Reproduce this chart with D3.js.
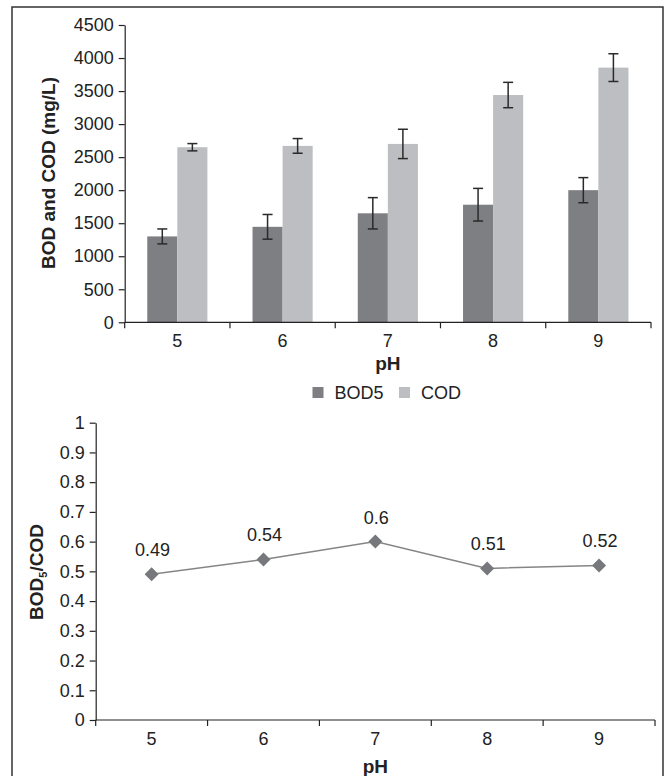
<!DOCTYPE html>
<html lang="en">
<head>
  <meta charset="UTF-8">
  <title>BOD and COD vs pH</title>
  <style>
    body {
      margin: 0;
      background: #fff;
    }
    svg text {
      font-family: "Liberation Sans", Arial, sans-serif;
      fill: #222;
    }
    .tick text {
      font-size: 18px;
    }
    .axis-title {
      font-size: 19px;
      font-weight: bold;
    }
  </style>
</head>
<body>
  <svg id="chart" width="665" height="776"></svg>

  <script src="https://d3js.org/d3.v7.min.js"></script>
  <script>
    // data
    const phValues = ["5", "6", "7", "8", "9"];
    const seriesNames = ["BOD5", "COD"];
    const bodValues = [1300, 1445, 1650, 1780, 2000];
    const bodErrors = [113, 187, 237, 247, 190];
    const codValues = [2650, 2670, 2700, 3440, 3855];
    const codErrors = [55, 111, 222, 192, 210];
    const ratioValues = [0.49, 0.54, 0.6, 0.51, 0.52];
    const barTicks = [0, 500, 1000, 1500, 2000, 2500, 3000, 3500, 4000, 4500];
    const ratioTicks = [0, 0.1, 0.2, 0.3, 0.4, 0.5, 0.6, 0.7, 0.8, 0.9, 1];

    const colors = { BOD5: "#7e7f83", COD: "#bdbec2" };

    const svg = d3.select("#chart");

    // frame around the whole figure
    svg.append("rect")
      .attr("x", 12).attr("y", 7)
      .attr("width", 651).attr("height", 800)
      .attr("fill", "none")
      .attr("stroke", "#333")
      .attr("stroke-width", 1.5);

    // ---------- top chart: bars ----------
    const barBox = { left: 124.7, right: 651, top: 25, bottom: 322.3 };

    const xBand = d3.scaleBand().domain(phValues).range([barBox.left, barBox.right]);
    const xSub = d3.scaleBand().domain(seriesNames)
      .range([0, xBand.bandwidth()])
      .paddingInner(0)
      .paddingOuter(0.75);
    const yBar = d3.scaleLinear().domain([0, 4500]).range([barBox.bottom, barBox.top]);

    const rows = phValues.map((ph, i) => ({
      ph,
      bars: [
        { name: "BOD5", value: bodValues[i], err: bodErrors[i] },
        { name: "COD", value: codValues[i], err: codErrors[i] }
      ]
    }));

    const groups = svg.append("g").selectAll("g")
      .data(rows)
      .join("g")
      .attr("transform", d => `translate(${xBand(d.ph)},0)`);

    groups.selectAll("rect")
      .data(d => d.bars)
      .join("rect")
      .attr("x", d => xSub(d.name))
      .attr("y", d => yBar(d.value))
      .attr("width", xSub.bandwidth())
      .attr("height", d => yBar(0) - yBar(d.value))
      .attr("fill", d => colors[d.name]);

    // error bars
    const errG = groups.selectAll("g.err")
      .data(d => d.bars)
      .join("g")
      .attr("class", "err")
      .attr("stroke", "#2a2a2a")
      .attr("stroke-width", 1.5);

    errG.append("line")
      .attr("x1", d => xSub(d.name) + xSub.bandwidth() / 2)
      .attr("x2", d => xSub(d.name) + xSub.bandwidth() / 2)
      .attr("y1", d => yBar(d.value - d.err))
      .attr("y2", d => yBar(d.value + d.err));
    [-1, 1].forEach(s => {
      errG.append("line")
        .attr("x1", d => xSub(d.name) + xSub.bandwidth() / 2 - 5)
        .attr("x2", d => xSub(d.name) + xSub.bandwidth() / 2 + 5)
        .attr("y1", d => yBar(d.value + s * d.err))
        .attr("y2", d => yBar(d.value + s * d.err));
    });

    // axes
    function styleAxis(g) {
      g.selectAll("path, line").attr("stroke", "#222").attr("stroke-width", 1.2);
      g.selectAll("text").attr("fill", "#222");
    }

    svg.append("g")
      .attr("transform", `translate(${barBox.left},0)`)
      .call(d3.axisLeft(yBar).tickValues(barTicks).tickFormat(d3.format("d"))
        .tickSize(6).tickSizeOuter(0).tickPadding(5))
      .call(styleAxis);

    function categoryAxis(band, yPos) {
      const g = svg.append("g");
      g.append("line")
        .attr("x1", band.range()[0]).attr("x2", band.range()[1])
        .attr("y1", yPos).attr("y2", yPos)
        .attr("stroke", "#222").attr("stroke-width", 1.2);
      const edges = band.domain().map(d => band(d)).concat([band.range()[1]]);
      g.selectAll("line.tk")
        .data(edges)
        .join("line")
        .attr("class", "tk")
        .attr("x1", d => d).attr("x2", d => d)
        .attr("y1", yPos).attr("y2", yPos + 6)
        .attr("stroke", "#222").attr("stroke-width", 1.2);
      g.selectAll("text")
        .data(band.domain())
        .join("text")
        .attr("x", d => band(d) + band.bandwidth() / 2)
        .attr("y", yPos + 25)
        .attr("text-anchor", "middle")
        .style("font-size", "18px")
        .text(d => d);
    }

    categoryAxis(xBand, barBox.bottom);

    svg.append("text")
      .attr("class", "axis-title")
      .attr("x", (barBox.left + barBox.right) / 2)
      .attr("y", 370)
      .attr("text-anchor", "middle")
      .text("pH");

    svg.append("text")
      .attr("class", "axis-title")
      .attr("transform", `translate(55,173) rotate(-90)`)
      .attr("text-anchor", "middle")
      .text("BOD and COD (mg/L)");

    // legend
    const legend = svg.append("g");
    const legendItems = [
      { name: "BOD5", x: 312.5 },
      { name: "COD", x: 399 }
    ];
    legend.selectAll("rect")
      .data(legendItems)
      .join("rect")
      .attr("x", d => d.x)
      .attr("y", 387)
      .attr("width", 11)
      .attr("height", 11)
      .attr("fill", d => colors[d.name]);
    legend.selectAll("text")
      .data(legendItems)
      .join("text")
      .attr("x", d => d.x + 22)
      .attr("y", 399)
      .style("font-size", "18px")
      .text(d => d.name);

    // ---------- bottom chart: ratio line ----------
    const lineBox = { left: 95.7, right: 655, top: 422.7, bottom: 720 };

    const xBand2 = d3.scaleBand().domain(phValues).range([lineBox.left, lineBox.right]);
    const yRatio = d3.scaleLinear().domain([0, 1]).range([lineBox.bottom, lineBox.top]);

    svg.append("g")
      .attr("transform", `translate(${lineBox.left},0)`)
      .call(d3.axisLeft(yRatio).tickValues(ratioTicks).tickFormat(d3.format(""))
        .tickSize(6).tickSizeOuter(0).tickPadding(5))
      .call(styleAxis);

    categoryAxis(xBand2, lineBox.bottom);

    const points = phValues.map((ph, i) => ({ ph, value: ratioValues[i] }));
    const cx = d => xBand2(d.ph) + xBand2.bandwidth() / 2;

    svg.append("path")
      .datum(points)
      .attr("fill", "none")
      .attr("stroke", "#858585")
      .attr("stroke-width", 1.5)
      .attr("d", d3.line().x(cx).y(d => yRatio(d.value)));

    svg.append("g").selectAll("path")
      .data(points)
      .join("path")
      .attr("transform", d => `translate(${cx(d)},${yRatio(d.value)})`)
      .attr("d", "M0,-7L7,0L0,7L-7,0Z")
      .attr("fill", "#77787c");

    svg.append("g").selectAll("text")
      .data(points)
      .join("text")
      .attr("x", d => cx(d) + 1)
      .attr("y", d => yRatio(d.value) - 18)
      .attr("text-anchor", "middle")
      .style("font-size", "18px")
      .text(d => d.value);

    svg.append("text")
      .attr("class", "axis-title")
      .attr("x", (lineBox.left + lineBox.right) / 2)
      .attr("y", 773)
      .attr("text-anchor", "middle")
      .text("pH");

    const yTitle = svg.append("text")
      .attr("class", "axis-title")
      .attr("transform", `translate(43,572) rotate(-90)`)
      .attr("text-anchor", "middle");
    yTitle.append("tspan").text("BOD");
    yTitle.append("tspan").attr("dy", 4).style("font-size", "11px").text("5");
    yTitle.append("tspan").attr("dy", -4).text("/COD");
  </script>
</body>
</html>
